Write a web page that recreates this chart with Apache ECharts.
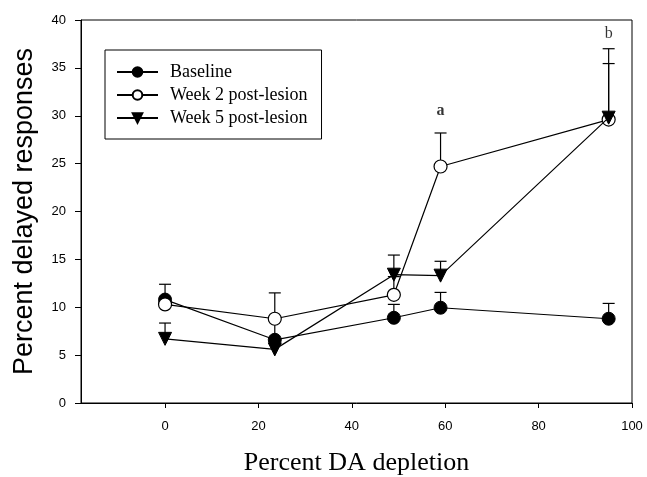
<!DOCTYPE html>
<html>
<head>
<meta charset="utf-8">
<script src="https://cdn.jsdelivr.net/npm/echarts@6/dist/echarts.min.js"></script>
<style>
  html, body { margin: 0; padding: 0; background: #fff; }
  #chart { width: 647px; height: 477px; }
</style>
</head>
<body>
<div id="chart"></div>
<script>
// values
var depletion = [0, 23.5, 49, 59, 95];
var baseline = [10.8, 6.6, 8.9, 9.95, 8.8];
var week2 = [10.3, 8.8, 11.3, 24.7, 29.6];
var week5 = [6.7, 5.6, 13.4, 13.3, 29.8];
// upper error bars (SEM), 0 = not drawn
var baselineSem = [1.6, 1.9, 1.4, 1.6, 1.6];
var week2Sem = [0, 2.7, 1.9, 3.5, 7.4];
var week5Sem = [1.65, 0, 2.05, 1.5, 5.65];
var xTicks = [0, 20, 40, 60, 80, 100];
var notes = [
  { x: 59, y: 30.5, text: 'a', bold: true },
  { x: 95, y: 38.6, text: 'b', bold: false }
];

var serif = 'Liberation Serif, Times New Roman, serif';
var sans = 'Liberation Sans, Arial, sans-serif';
var triangleDown = 'path://M0,0 L10,0 L5,9 Z';

function pairs(ys) {
  return depletion.map(function (x, i) { return [x, ys[i]]; });
}

var errData = [];
[[baseline, baselineSem], [week2, week2Sem], [week5, week5Sem]].forEach(function (s) {
  s[0].forEach(function (v, i) {
    if (s[1][i] > 0) errData.push([depletion[i], v, v + s[1][i]]);
  });
});

function renderErr(params, api) {
  var p0 = api.coord([api.value(0), api.value(1)]);
  var p1 = api.coord([api.value(0), api.value(2)]);
  var style = { stroke: '#000', lineWidth: 1.2 };
  return {
    type: 'group',
    children: [
      { type: 'line', shape: { x1: p0[0], y1: p0[1], x2: p1[0], y2: p1[1] }, style: style },
      { type: 'line', shape: { x1: p1[0] - 6, y1: p1[1], x2: p1[0] + 6, y2: p1[1] }, style: style }
    ]
  };
}

var chart = echarts.init(document.getElementById('chart'));

var lineStyle = { color: '#000', width: 1.2 };

var option = {
  animation: false,
  backgroundColor: '#fff',
  grid: {
    left: 81, right: 15, top: 20, bottom: 74,
    outerBoundsMode: 'none',
    show: true, borderColor: '#000', borderWidth: 1
  },
  legend: {
    orient: 'vertical',
    left: 105, top: 50,
    padding: [13, 14, 12, 11],
    borderColor: '#000', borderWidth: 1,
    itemWidth: 41, itemHeight: 12, itemGap: 5,
    textStyle: { fontFamily: serif, fontSize: 18, color: '#000', padding: [0, 0, 0, 7] },
    data: ['Baseline', 'Week 2 post-lesion', 'Week 5 post-lesion']
  },
  xAxis: {
    type: 'value',
    min: -18, max: 100,
    name: 'Percent DA depletion',
    nameLocation: 'middle',
    nameGap: 47,
    nameTextStyle: { fontFamily: serif, fontSize: 26, color: '#000' },
    axisLine: { onZero: false, lineStyle: { color: '#000' } },
    axisTick: { customValues: xTicks, length: 5, lineStyle: { color: '#000' } },
    axisLabel: { customValues: xTicks, margin: 17, fontFamily: sans, fontSize: 13, color: '#000' },
    splitLine: { show: false }
  },
  yAxis: {
    type: 'value',
    min: 0, max: 40, interval: 5,
    name: 'Percent delayed responses',
    nameLocation: 'middle',
    nameGap: 43,
    nameTextStyle: { fontFamily: sans, fontSize: 27, color: '#000' },
    axisLine: { show: true, onZero: false, lineStyle: { color: '#000' } },
    axisTick: { show: true, length: 6, lineStyle: { color: '#000' } },
    axisLabel: { margin: 15, fontFamily: sans, fontSize: 13, color: '#000' },
    splitLine: { show: false }
  },
  series: [
    {
      name: 'errors',
      type: 'custom',
      renderItem: renderErr,
      encode: { x: 0, y: [1, 2] },
      data: errData,
      z: 1
    },
    {
      name: 'Baseline',
      type: 'line',
      data: pairs(baseline),
      symbol: 'circle', symbolSize: 13,
      lineStyle: lineStyle,
      itemStyle: { color: '#000', borderColor: '#000', borderWidth: 1 },
      z: 3
    },
    {
      name: 'Week 2 post-lesion',
      type: 'line',
      data: pairs(week2),
      symbol: 'circle', symbolSize: 13,
      lineStyle: lineStyle,
      itemStyle: { color: '#fff', borderColor: '#000', borderWidth: 1.2 },
      z: 4
    },
    {
      name: 'Week 5 post-lesion',
      type: 'line',
      data: pairs(week5),
      symbol: triangleDown, symbolSize: 13,
      lineStyle: lineStyle,
      itemStyle: { color: '#000', borderColor: '#000', borderWidth: 1 },
      z: 5
    },
    {
      name: 'notes',
      type: 'scatter',
      symbolSize: 0,
      silent: true,
      data: notes.map(function (n) {
        return {
          value: [n.x, n.y],
          label: {
            show: true, position: 'inside', formatter: n.text,
            fontFamily: serif, fontSize: 16, color: '#000',
            fontWeight: n.bold ? 'bold' : 'normal'
          }
        };
      })
    }
  ]
};

chart.setOption(option);
</script>
</body>
</html>
